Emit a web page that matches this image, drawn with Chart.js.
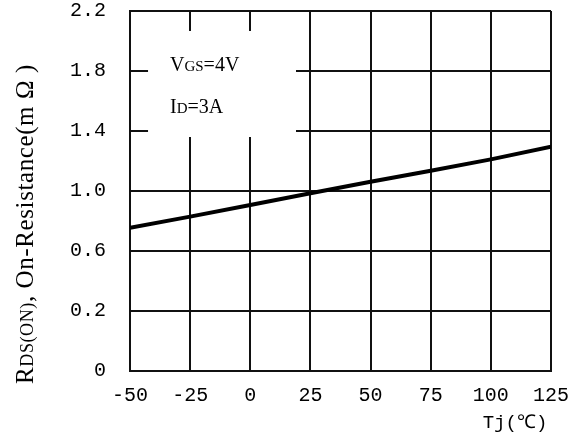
<!DOCTYPE html>
<html>
<head>
<meta charset="utf-8">
<script src="https://cdn.jsdelivr.net/npm/chart.js@4/dist/chart.umd.min.js"></script>
<style>
html,body{margin:0;padding:0;background:#fff;}
#wrap{width:574px;height:437px;position:relative;}
</style>
</head>
<body>
<div id="wrap"><canvas id="c" width="574" height="437"></canvas></div>
<script>
// Data
const temperatures = [-50, -25, 0, 25, 50, 75, 100, 125];
const rdsOn = [0.755, 0.829, 0.907, 0.985, 1.062, 1.135, 1.211, 1.295];
const yTickLabels = ['0', '0.2', '0.6', '1.0', '1.4', '1.8', '2.2'];
const xTicks = [-50, -25, 0, 25, 50, 75, 100, 125];

// The y axis of the original is uneven: 0 -> 0.2 then steps of 0.4
function toAxis(v) { return v <= 0.2 ? v / 0.2 : 1 + (v - 0.2) / 0.4; }

const points = temperatures.map((t, i) => ({ x: t, y: toAxis(rdsOn[i]) }));

const tickFont = { family: 'Liberation Mono', size: 20 };

function drawSubText(ctx, parts, x, y) {
  let cx = x;
  parts.forEach(([txt, size]) => {
    ctx.font = size + 'px "Liberation Serif"';
    ctx.fillText(txt, cx, y);
    cx += ctx.measureText(txt).width;
  });
  return cx - x;
}
function measureParts(ctx, parts) {
  let w = 0;
  parts.forEach(([txt, size]) => { ctx.font = size + 'px "Liberation Serif"'; w += ctx.measureText(txt).width; });
  return w;
}

const overlay = {
  id: 'overlay',
  beforeDatasetsDraw(chart) {
    const { ctx, scales: { x, y } } = chart;
    const x0 = x.getPixelForValue(-42.5), x1 = x.getPixelForValue(19);
    const y0 = y.getPixelForValue(5.667), y1 = y.getPixelForValue(3.9);
    ctx.save();
    ctx.fillStyle = '#fff';
    ctx.fillRect(x0, y0, x1 - x0, y1 - y0);
    ctx.fillStyle = '#000';
    ctx.textBaseline = 'alphabetic';
    drawSubText(ctx, [['V', 20], ['GS', 15], ['=4V', 20]], 170, 71);
    drawSubText(ctx, [['I', 20], ['D', 15], ['=3A', 20]], 170, 113);
    ctx.restore();
  },
  afterDraw(chart) {
    const { ctx } = chart;
    ctx.save();
    ctx.fillStyle = '#000';
    if ('letterSpacing' in ctx) ctx.letterSpacing = '0.6px';
    const parts = [['R', 25], ['DS(ON)', 18], [', On-Resistance(m \u03A9 )', 25]];
    ctx.translate(33, 224);
    ctx.rotate(-Math.PI / 2);
    const w = measureParts(ctx, parts);
    ctx.textBaseline = 'alphabetic';
    drawSubText(ctx, parts, -w / 2, 0);
    ctx.restore();
    ctx.save();
    ctx.fillStyle = '#000';
    ctx.font = '19px "Liberation Mono"';
    ctx.textAlign = 'center';
    ctx.textBaseline = 'middle';
    ctx.fillText('Tj(\u2103)', 515, 423);
    ctx.restore();
  }
};

new Chart(document.getElementById('c'), {
  type: 'line',
  data: {
    datasets: [{
      data: points,
      borderColor: '#000',
      borderWidth: 4,
      pointRadius: 0,
      tension: 0,
      fill: false
    }]
  },
  options: {
    responsive: false,
    animation: false,
    devicePixelRatio: 1,
    layout: { padding: { top: 11, right: 23, left: 0, bottom: 0 } },
    plugins: { legend: { display: false }, tooltip: { enabled: false } },
    scales: {
      x: {
        type: 'linear',
        min: -50, max: 125,
        afterBuildTicks: s => { s.ticks = xTicks.map(v => ({ value: v })); },
        afterFit: s => { s.height = 66; s.paddingLeft = 0; s.paddingRight = 0; },
        grid: { color: '#111', lineWidth: 2, drawTicks: false },
        border: { color: '#111', width: 2 },
        ticks: { color: '#000', font: tickFont, padding: 13, maxRotation: 0, autoSkip: false }
      },
      y: {
        type: 'linear',
        min: 0, max: 6,
        afterBuildTicks: s => { s.ticks = yTickLabels.map((_, i) => ({ value: i })); },
        afterFit: s => { s.width = 130; s.paddingTop = 0; s.paddingBottom = 0; },
        grid: { color: '#111', lineWidth: 2, drawTicks: false },
        border: { color: '#111', width: 2 },
        ticks: { color: '#000', font: tickFont, padding: 24, autoSkip: false,
          callback: v => yTickLabels[v] }
      }
    }
  },
  plugins: [overlay]
});
</script>
</body>
</html>
